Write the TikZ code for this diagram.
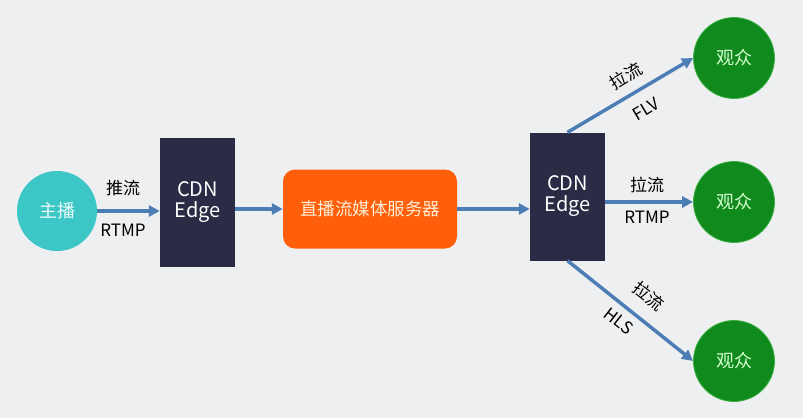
\documentclass[tikz,border=0pt]{standalone}
\usepackage{fontspec}
\setmainfont{Noto Sans CJK SC}
\usetikzlibrary{arrows.meta}
\definecolor{bgc}{HTML}{EEEFF1}
\definecolor{tealc}{HTML}{3CC6C6}
\definecolor{navyc}{HTML}{2B2B45}
\definecolor{orangec}{HTML}{FF5E0A}
\definecolor{greenc}{HTML}{108A1C}
\definecolor{greenedge}{HTML}{38B040}
\definecolor{arrowc}{HTML}{4D7DB5}
\definecolor{lightgreen}{HTML}{D6FFD0}
\definecolor{paletext}{HTML}{FFF0D8}
\tikzset{
  cdnbox/.style={fill=navyc, draw=none, minimum width=75pt, minimum height=129pt,
    text=white, align=center, font=\fontsize{20}{21}\selectfont, inner sep=0pt},
  viewer/.style={circle, fill=greenc, draw=greenedge, line width=0.8pt, minimum size=81pt,
    inner sep=0pt, text=lightgreen, font=\fontsize{18}{20}\selectfont},
  flow/.style={draw=arrowc, line width=3.5pt, -{Triangle[length=11pt,width=11pt]}},
  lbl/.style={font=\fontsize{17}{19}\selectfont, text=black, inner sep=0pt}
}
\begin{document}
\begin{tikzpicture}[x=1pt,y=-1pt]
\fill[bgc] (0,0) rectangle (803,418);
\useasboundingbox (0,0) rectangle (803,418);

\node[circle, fill=tealc, minimum size=80pt, inner sep=0pt, text=white!90!tealc,
  font=\fontsize{18}{20}\selectfont] (zhubo) at (57,211) {主播};
\node[cdnbox] (cdn1) at (197.5,202.5) {CDN\\Edge};
\node[rounded corners=12pt, fill=orangec, minimum width=174pt, minimum height=79pt,
  inner sep=0pt, text=paletext, font=\fontsize{17.5}{20}\selectfont] (server) at (370,209) {直播流媒体服务器};
\node[cdnbox, minimum height=128pt] (cdn2) at (567.5,196.5) {CDN\\Edge};

\node[viewer] (v1) at (734,58) {观众};
\node[viewer] (v2) at (734,202) {观众};
\node[viewer] (v3) at (734,361) {观众};

\draw[flow] (zhubo.east) -- (cdn1.west |- zhubo.east);
\draw[flow] (cdn1.east |- server.west) -- (server.west);
\draw[flow] (server.east) -- (cdn2.west |- server.east);
\draw[flow] (cdn2.north) -- (v1.west);
\draw[flow] (cdn2.east |- v2.west) -- (v2.west);
\draw[flow] (cdn2.south) -- (v3.west);

\node[lbl] (l1a) at (123,188) {推流};
\node[lbl] (l1b) at (123,230) {RTMP};
\node[lbl, rotate=31] (l2a) at (626,76) {拉流};
\node[lbl, rotate=31] (l2b) at (646,109) {FLV};
\node[lbl] (l3a) at (647,185) {拉流};
\node[lbl] (l3b) at (647,217) {RTMP};
\node[lbl, rotate=-38] (l4a) at (649,296) {拉流};
\node[lbl, rotate=-38] (l4b) at (619,321) {HLS};
\end{tikzpicture}
\end{document}
